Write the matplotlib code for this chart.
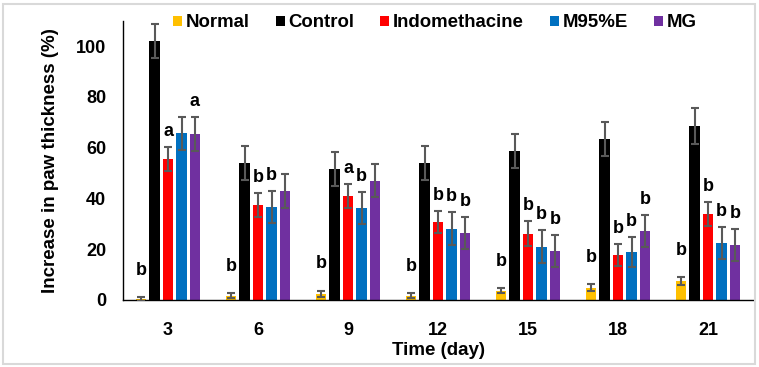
import matplotlib
matplotlib.use("Agg")
import matplotlib.pyplot as plt
import numpy as np
from matplotlib.patches import Patch, Rectangle

plt.rcParams['font.family'] = ['Liberation Sans', 'DejaVu Sans']
plt.rcParams['font.weight'] = 'bold'

days = ["3", "6", "9", "12", "15", "18", "21"]
groups = ["Normal", "Control", "Indomethacine", "M95%E", "MG"]

normal = [0.3, 1.7, 2.4, 1.7, 3.7, 4.8, 7.5]
normal_err = [0.7, 0.9, 1.3, 0.9, 0.9, 1.4, 1.4]
control = [102.0, 53.9, 51.6, 53.9, 58.7, 63.4, 68.5]
control_err = [6.7, 6.8, 6.8, 6.6, 6.8, 6.8, 7.0]
indo = [55.5, 37.4, 40.9, 30.8, 26.1, 17.7, 33.9]
indo_err = [4.6, 4.6, 4.6, 4.4, 4.9, 4.5, 4.8]
m95 = [65.7, 36.6, 36.2, 28.0, 20.9, 18.9, 22.4]
m95_err = [6.5, 6.4, 6.4, 6.5, 6.5, 6.0, 6.4]
mg = [65.4, 42.9, 46.9, 26.4, 19.3, 27.2, 21.7]
mg_err = [6.8, 6.6, 6.5, 6.4, 6.4, 6.4, 6.4]

normal_lbl = ["b", "b", "b", "b", "b", "b", "b"]
control_lbl = ["", "", "", "", "", "", ""]
indo_lbl = ["a", "b", "a", "b", "b", "b", "b"]
m95_lbl = ["", "b", "b", "b", "b", "b", "b"]
mg_lbl = ["a", "", "", "b", "b", "b", "b"]

colors = ["#FFC000", "#000000", "#FF0000", "#0070C0", "#7030A0"]

series = [normal, control, indo, m95, mg]
errors = [normal_err, control_err, indo_err, m95_err, mg_err]
labels = [normal_lbl, control_lbl, indo_lbl, m95_lbl, mg_lbl]

fig = plt.figure(figsize=(7.59, 3.67), dpi=100)
ax = fig.add_axes([123/759, 1-300/367, 630/759, 279.3/367])

x = np.arange(len(days))
pitch = 0.15
width = 0.117
for i, (vals, errs, lbls, col, name) in enumerate(zip(series, errors, labels, colors, groups)):
    xs = x + (i - 2) * pitch
    ax.bar(xs, vals, width=width, color=col, label=name, zorder=2)
    ax.errorbar(xs, vals, yerr=errs, fmt='none', ecolor='#595959',
                elinewidth=1.5, capsize=3.2, capthick=1.5, zorder=3)
    off = 16 if i == 0 else 8
    for xx, v, e, t in zip(xs, vals, errs, lbls):
        if t:
            ax.annotate(t, (xx, v + e), xytext=(0, off), textcoords='offset points',
                        ha='center', va='baseline', fontsize=13, fontweight='bold')

ax.set_xlim(-0.5, len(days) - 0.5)
ax.set_ylim(0, 110)
ax.set_yticks([0, 20, 40, 60, 80, 100])
ax.set_xticks(x)
ax.set_xticklabels(days)
ax.tick_params(axis='both', length=0, labelsize=13)
ax.tick_params(axis='y', pad=12)
ax.tick_params(axis='x', pad=16)
for t in ax.get_xticklabels() + ax.get_yticklabels():
    t.set_fontweight('bold')
for s in ['top', 'right']:
    ax.spines[s].set_visible(False)
for s in ['left', 'bottom']:
    ax.spines[s].set_linewidth(1.0)
    ax.spines[s].set_color('black')

ax.set_ylabel("Increase in paw thickness (%)", fontsize=13.5, fontweight='bold')
ax.yaxis.set_label_coords(-0.102, 0.5)
ax.set_xlabel("Time (day)", fontsize=13.5, fontweight='bold')
ax.xaxis.set_label_coords(0.5, -0.15)

handles = [Patch(facecolor=c, edgecolor='none') for c in colors]
leg = ax.legend(handles, groups, loc='center', bbox_to_anchor=(0.495, 0.992), ncol=5,
                frameon=False, fontsize=13.4, handlelength=0.48, handleheight=0.48,
                handletextpad=0.2, columnspacing=1.4, borderpad=0, borderaxespad=0)
for t in leg.get_texts():
    t.set_fontweight('bold')

fig.patches.append(Rectangle((3/759, 3/367), 752/759, 360/367, transform=fig.transFigure,
                             fill=False, edgecolor='#D9D9D9', linewidth=1.5))

fig.savefig("out.png", dpi=100)
